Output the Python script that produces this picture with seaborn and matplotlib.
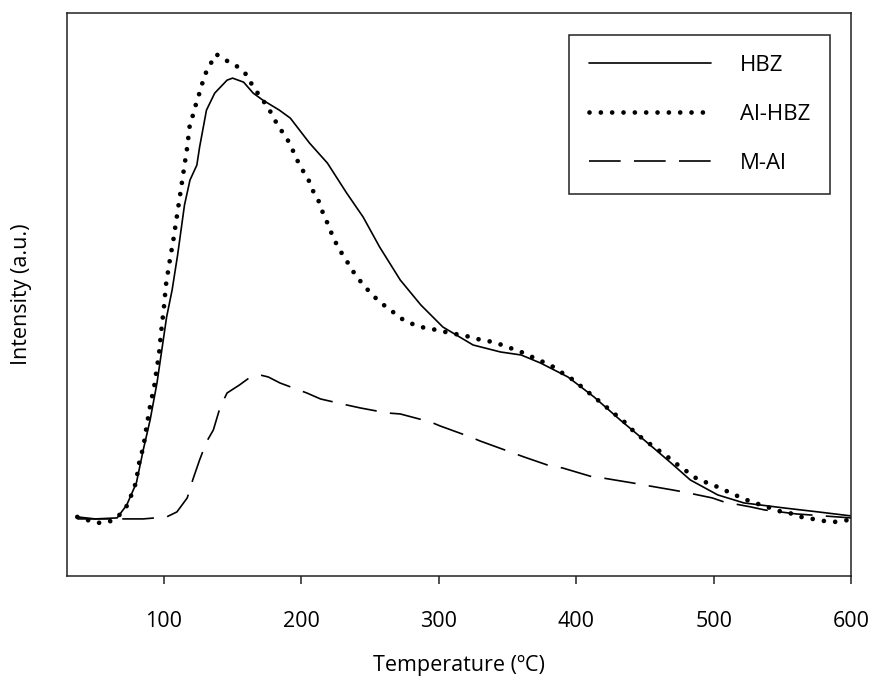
import pandas as pd
import seaborn as sns
import matplotlib.pyplot as plt

# === Data (temperature in C, intensity in arbitrary units) ===
hbz_t = [37, 50, 66, 73, 80, 85, 90, 95, 98.5, 102, 106, 110, 115, 119, 124, 126,
         131, 137, 146, 150, 158, 165, 172, 184, 192, 206, 219, 233, 245, 257, 272,
         287, 303, 325, 345, 360, 374, 394, 413, 432, 452, 469, 483, 503, 522, 551,
         576, 600]
hbz_i = [5.9, 5.7, 5.8, 7.1, 9.3, 12.6, 15.6, 19.3, 22.6, 25.9, 28.6, 32.1, 37.1,
         39.6, 41.1, 42.9, 46.6, 48.3, 49.6, 49.8, 49.4, 48.3, 47.6, 46.6, 45.8,
         43.3, 41.3, 38.3, 35.9, 32.9, 29.6, 27.1, 24.9, 23.1, 22.4, 22.1, 21.3,
         19.9, 17.9, 15.6, 13.3, 11.3, 9.6, 8.1, 7.3, 6.8, 6.4, 6.0]

alhbz_t = [37, 44, 52, 60, 66.5, 73, 77, 79.6, 82.5, 85, 87.6, 90.5, 92.7, 95, 96.4,
           98, 100, 101.5, 104, 107, 109.5, 112, 114.6, 117, 119, 122, 124, 127, 129,
           133, 138, 145, 153, 160.5, 165, 171, 176.5, 181.6, 186.7, 192, 195.5, 200,
           205, 208.6, 213, 216, 220, 223, 227.5, 232.6, 238, 244, 251, 258, 265, 272,
           279, 287, 295, 305, 312, 320, 328, 336, 344, 352, 360, 368, 376, 383.5,
           391, 398, 405, 413, 421, 428, 436, 443, 450.6, 458.6, 466.6, 474, 489, 498,
           506, 514, 522, 530, 539, 547, 555, 563.5, 572, 580, 588, 598.5]
alhbz_i = [5.9, 5.6, 5.3, 5.4, 5.9, 7.0, 8.3, 9.3, 11.7, 12.8, 15.1, 17.4, 18.7, 20.9,
           22.1, 24.4, 26.8, 29.1, 31.3, 33.7, 36.0, 38.3, 40.7, 42.9, 45.3, 46.4,
           47.6, 48.7, 49.9, 51.0, 52.2, 51.6, 51.0, 50.1, 48.9, 47.8, 46.7, 45.4,
           44.3, 43.2, 42.0, 40.8, 39.7, 38.5, 37.4, 36.2, 35.0, 33.9, 32.7, 31.6,
           30.4, 29.3, 28.2, 27.3, 26.6, 25.8, 25.3, 24.9, 24.7, 24.4, 24.2, 24.0,
           23.7, 23.5, 23.2, 22.8, 22.4, 21.9, 21.4, 20.9, 20.2, 19.6, 18.8, 17.9,
           17.0, 16.2, 15.3, 14.3, 13.5, 12.7, 11.9, 11.1, 9.6, 9.2, 8.7, 8.2, 7.7,
           7.3, 6.9, 6.5, 6.3, 5.9, 5.7, 5.5, 5.4, 5.6]

mal_t = [37, 60, 85, 102, 109.5, 117, 121, 126, 131, 136, 141, 146, 155, 163, 170,
         176, 184.5, 204, 214, 233, 243, 262.5, 272, 294, 301, 323, 330, 352, 362,
         381, 390, 412, 419, 441, 449, 470, 478, 499, 507.5, 527, 537, 560, 580, 600]
mal_i = [5.7, 5.7, 5.7, 5.9, 6.4, 7.8, 9.6, 11.6, 13.4, 14.6, 16.9, 18.3, 19.1, 19.9,
         20.1, 19.9, 19.3, 18.3, 17.7, 17.1, 16.8, 16.3, 16.2, 15.4, 15.0, 13.9,
         13.5, 12.4, 11.9, 11.0, 10.8, 9.9, 9.8, 9.3, 9.1, 8.6, 8.4, 7.8, 7.4, 6.9,
         6.6, 6.2, 6.0, 5.8]

x_ticks = [100, 200, 300, 400, 500, 600]

# === Style ===
sns.set_theme(style='white')
plt.rcParams['font.family'] = ['Open Sans', 'DejaVu Sans']
plt.rcParams['text.color'] = 'black'
plt.rcParams['axes.labelcolor'] = 'black'
plt.rcParams['xtick.color'] = 'black'

fig = plt.figure(figsize=(8.72, 6.93), dpi=100)
ax = fig.add_axes([0.0768, 0.169, 0.8992, 0.812])

sns.lineplot(x=hbz_t, y=hbz_i, ax=ax, color='black', linewidth=1.2,
             label='HBZ', sort=False)
sns.lineplot(x=alhbz_t, y=alhbz_i, ax=ax, color='black', linewidth=3.4,
             linestyle=(0, (0.001, 2.4)), dash_capstyle='round',
             label='Al-HBZ', sort=False)
sns.lineplot(x=mal_t, y=mal_i, ax=ax, color='black', linewidth=1.2,
             linestyle=(0, (19, 8)), label='M-Al', sort=False)

ax.set_xlim(29.5, 600)
ax.set_ylim(0, 56.3)
ax.set_xticks(x_ticks)
ax.set_yticks([])

for sp in ax.spines.values():
    sp.set_color('#222222')
    sp.set_linewidth(1.1)

ax.tick_params(axis='x', direction='out', length=6, width=1.1, color='#222222',
               bottom=True, pad=19, labelsize=15.5)
ax.set_xlabel('Temperature (ºC)', fontsize=15.5, labelpad=17)
ax.set_ylabel('Intensity (a.u.)', fontsize=15.5, labelpad=25)

leg = ax.legend(loc='upper right', bbox_to_anchor=(0.952, 0.9495),
                bbox_transform=fig.transFigure, borderaxespad=0,
                fontsize=16, handlelength=5.5, handletextpad=1.3,
                labelspacing=1.25, borderpad=0.9, fancybox=False,
                framealpha=1, edgecolor='#222222')
leg.get_frame().set_linewidth(1.1)

plt.savefig('out.png', dpi=100)
